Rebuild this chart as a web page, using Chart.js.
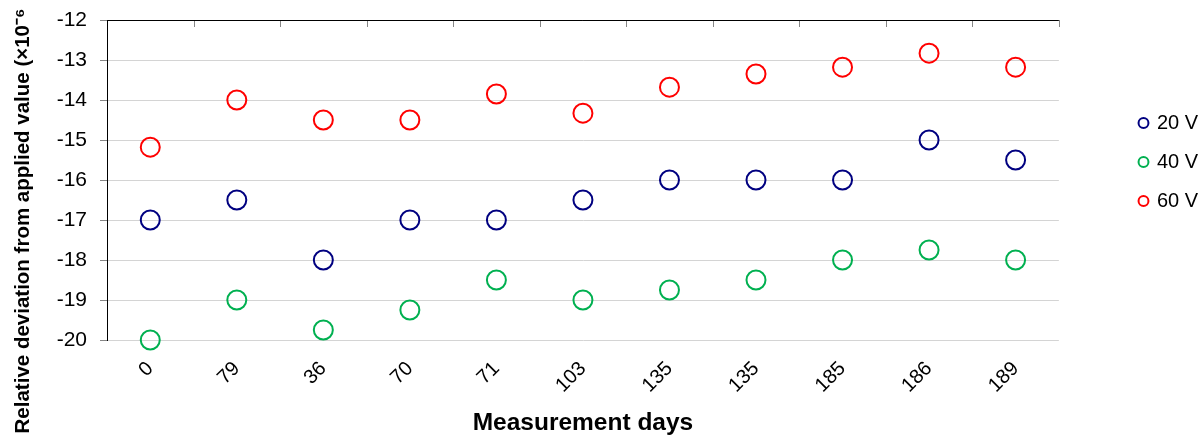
<!DOCTYPE html>
<html>
<head>
<meta charset="utf-8">
<script src="https://cdn.jsdelivr.net/npm/chart.js@4.4.1/dist/chart.umd.min.js"></script>
<style>
html,body{margin:0;padding:0;background:#fff;}
#wrap{position:relative;width:1204px;height:435px;}
</style>
</head>
<body>
<div id="wrap"><canvas id="c" width="1204" height="435"></canvas></div>
<script>
const categories = ['0','79','36','70','71','103','135','135','185','186','189'];
const series20V = [-17,-16.5,-18,-17,-17,-16.5,-16,-16,-16,-15,-15.5];
const series40V = [-20,-19,-19.75,-19.25,-18.5,-19,-18.75,-18.5,-18,-17.75,-18];
const series60V = [-15.18,-14,-14.5,-14.5,-13.85,-14.33,-13.68,-13.35,-13.18,-12.83,-13.18];
const seriesNames = ['20 V','40 V','60 V'];
const yTitle = 'Relative deviation from applied value (×10⁻⁶';
const xTitle = 'Measurement days';

const FONT = '"Liberation Sans", Arial, sans-serif';

const frame = {
  id: 'frame',
  beforeDatasetsDraw(chart) {
    const {ctx, chartArea, scales} = chart;
    const x = scales.x;
    ctx.save();
    ctx.strokeStyle = '#868686';
    ctx.lineWidth = 1;
    const n = categories.length;
    const step = x.getPixelForValue(1) - x.getPixelForValue(0);
    for (let i = 1; i <= n; i++) {
      const px = Math.round(x.getPixelForValue(i - 1) + step / 2) + 0.5;
      ctx.beginPath();
      ctx.moveTo(px, chartArea.top);
      ctx.lineTo(px, chartArea.top + 7);
      ctx.stroke();
    }
    ctx.strokeStyle = '#000';
    ctx.beginPath();
    ctx.moveTo(chartArea.left, Math.round(chartArea.top) + 0.5);
    ctx.lineTo(chartArea.right, Math.round(chartArea.top) + 0.5);
    ctx.stroke();
    ctx.restore();
  },
  afterDraw(chart) {
    const {ctx} = chart;
    ctx.save();
    ctx.translate(29, 221);
    ctx.rotate(-Math.PI / 2);
    ctx.font = 'bold 20.5px ' + FONT;
    ctx.fillStyle = '#000';
    ctx.textAlign = 'center';
    ctx.textBaseline = 'alphabetic';
    ctx.fillText(yTitle, 0, 0);
    ctx.restore();
  },
  afterLayout(chart) {
    const lg = chart.legend;
    if (lg) {
      const w = lg.width;
      lg.left = 1121;
      lg.right = lg.left + w;
      lg.top = 0;
      lg.bottom = 324;
    }
  }
};

const mk = (label, data, color) => ({
  label, data,
  borderColor: color,
  backgroundColor: 'rgba(255,255,255,0)',
  pointBackgroundColor: 'rgba(255,255,255,0)',
  pointBorderColor: color,
  pointStyle: 'circle',
  pointRadius: 9.5,
  pointHoverRadius: 9.5,
  pointBorderWidth: 2,
  borderWidth: 2,
  showLine: false,
  clip: false
});

new Chart(document.getElementById('c'), {
  type: 'line',
  data: {
    labels: categories,
    datasets: [
      mk(seriesNames[0], series20V, '#000080'),
      mk(seriesNames[1], series40V, '#00b050'),
      mk(seriesNames[2], series60V, '#ff0000')
    ]
  },
  plugins: [frame],
  options: {
    responsive: false,
    animation: false,
    events: [],
    layout: {padding: {left: 0, right: 58, top: 20, bottom: 0}},
    plugins: {
      tooltip: {enabled: false},
      legend: {
        position: 'right',
        align: 'center',
        labels: {
          usePointStyle: true,
          boxWidth: 7,
          boxHeight: 7,
          padding: 19,
          color: '#000',
          font: {family: FONT, size: 20}
        }
      }
    },
    scales: {
      x: {
        type: 'category',
        offset: true,
        grid: {display: false, drawTicks: false},
        border: {display: false},
        ticks: {
          color: '#000',
          font: {family: FONT, size: 20},
          minRotation: 45,
          maxRotation: 45,
          padding: 17,
          autoSkip: false
        },
        title: {
          display: true,
          text: xTitle,
          color: '#000',
          font: {family: FONT, size: 24.5, weight: 'bold'},
          padding: {top: 0, bottom: -3}
        },
        afterFit(s) { s.height = 95; s.paddingLeft = 0; s.paddingRight = 0; }
      },
      y: {
        min: -20,
        max: -12,
        ticks: {
          stepSize: 1,
          color: '#000',
          font: {family: FONT, size: 21},
          padding: 13
        },
        grid: {color: '#d4d4d4', tickColor: '#868686', tickLength: 7},
        border: {color: '#000', width: 1},
        afterFit(s) { s.width = 107; s.paddingTop = 0; s.paddingBottom = 0; }
      }
    }
  }
});
</script>
</body>
</html>
